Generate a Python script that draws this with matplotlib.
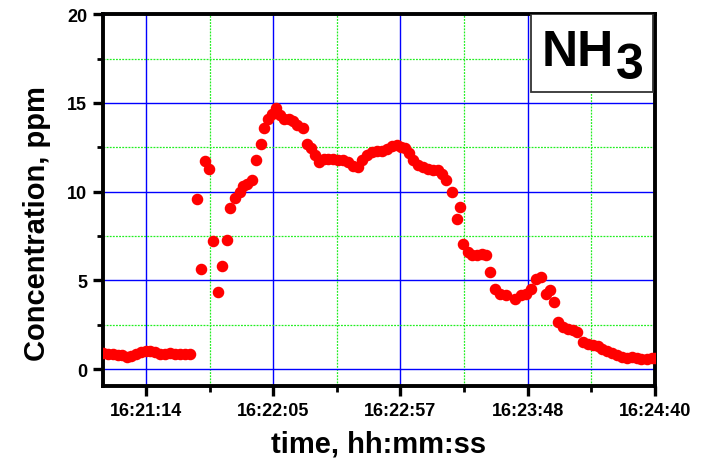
import math
import matplotlib
matplotlib.use("Agg")
import matplotlib.pyplot as plt
from matplotlib.ticker import FuncFormatter, MultipleLocator, FixedLocator
from matplotlib.patches import Rectangle

# seconds after 16:21:14
t_sec = [-17.4, -15.4, -13.3, -11.3, -9.7, -7.7, -6.1, -4.0, -2.0, 0.0,
         1.6, 3.6, 5.7, 7.7, 9.7, 11.7, 13.8, 15.8, 17.8,
         20.5, 22.1, 23.9, 25.6, 27.0, 29.0, 30.9, 32.6, 34.1, 36.0,
         38.0, 39.2, 40.9, 42.8, 44.5, 46.4, 47.7, 49.4, 51.0, 52.6,
         54.2, 55.8, 57.8, 59.5, 61.1, 63.5, 65.1, 66.7, 68.4, 70.0,
         72.0, 73.6, 75.6, 77.7, 79.7, 81.7, 83.7, 85.8, 87.4, 89.4,
         91.4, 93.4, 95.5, 97.5, 99.5, 101.5, 103.2, 104.8, 106.4, 108.0,
         110.0, 112.1, 114.1, 116.1, 118.1, 119.7, 121.4, 123.7, 125.7, 127.3,
         128.4, 130.4, 131.9, 133.9, 135.9, 137.8, 139.2, 141.2, 143.2, 145.9,
         149.3, 152.0, 154.0, 156.0, 158.0, 160.1, 161.8, 163.4, 165.0, 166.8,
         168.7, 170.7, 172.7, 174.4, 176.9, 178.8, 180.8, 182.9, 184.5, 186.5,
         188.5, 190.5, 192.6, 194.6, 196.6, 198.6, 200.6, 202.7, 204.7, 206.0]
# NH3 concentration, ppm
conc = [0.9, 0.85, 0.85, 0.8, 0.8, 0.7, 0.75, 0.85, 0.95, 1.0,
        1.0, 0.95, 0.85, 0.85, 0.9, 0.85, 0.85, 0.85, 0.85,
        9.6, 5.65, 11.7, 11.25, 7.2, 4.33, 5.8, 7.25, 9.08, 9.64,
        9.98, 10.3, 10.45, 10.64, 11.8, 12.7, 13.56, 14.1, 14.4, 14.7,
        14.3, 14.1, 14.1, 14.0, 13.75, 13.56, 12.7, 12.43, 12.05, 11.67,
        11.86, 11.86, 11.86, 11.8, 11.77, 11.67, 11.45, 11.4, 11.77, 12.05,
        12.24, 12.26, 12.3, 12.4, 12.58, 12.6, 12.54, 12.43, 12.15, 11.77,
        11.49, 11.4, 11.3, 11.2, 11.2, 11.0, 10.64, 9.98, 8.47, 9.13,
        7.06, 6.59, 6.4, 6.4, 6.5, 6.4, 5.46, 4.52, 4.24, 4.18,
        3.95, 4.18, 4.24, 4.52, 5.08, 5.2, 4.24, 4.48, 3.8, 2.64,
        2.35, 2.26, 2.2, 2.09, 1.51, 1.41, 1.36, 1.3, 1.13, 1.0,
        0.9, 0.8, 0.68, 0.62, 0.68, 0.62, 0.56, 0.56, 0.62, 0.62]

T0 = 16 * 3600 + 21 * 60 + 14

def hhmmss(x, pos):
    s = int(math.floor(T0 + x + 1e-6))
    return f"{s // 3600}:{(s % 3600) // 60:02d}:{s % 60:02d}"

plt.rcParams['font.family'] = ['Liberation Sans', 'DejaVu Sans']

fig = plt.figure(figsize=(7.11, 4.60), dpi=100)
ax = fig.add_axes([0.145, 0.159, 0.776, 0.808])

ax.plot(t_sec, conc, 'o', color='#ff0000', ms=7.3, mec='#ff0000', zorder=3)

ax.set_xlim(-17.4, 206)
ax.set_ylim(-0.95, 20)

ax.xaxis.set_major_locator(MultipleLocator(51.5))
ax.xaxis.set_minor_locator(FixedLocator([25.75, 77.25, 128.75, 180.25]))
ax.xaxis.set_major_formatter(FuncFormatter(hhmmss))
ax.yaxis.set_major_locator(MultipleLocator(5))
ax.yaxis.set_minor_locator(MultipleLocator(2.5))

ax.grid(which='major', color='#0000ff', lw=1.0, ls='-', zorder=1)
ax.grid(which='minor', color='#22ee22', lw=0.9, ls=(0, (1.5, 1.0)), zorder=1)
ax.set_axisbelow(True)

for s in ax.spines.values():
    s.set_linewidth(2.8)
ax.tick_params(which='major', direction='out', length=7.5, width=2.4, labelsize=13, pad=4)
ax.tick_params(which='minor', direction='out', length=4.5, width=2.0)
for lab in ax.get_xticklabels() + ax.get_yticklabels():
    lab.set_fontweight('bold')

ax.set_xlabel("time, hh:mm:ss", fontsize=21, fontweight='bold', labelpad=8)
ax.set_ylabel("Concentration, ppm", fontsize=21, fontweight='bold')
ax.yaxis.set_label_coords(-0.095, 0.44)

# gas label box in the upper right corner
ax.add_patch(Rectangle((0.775, 0.791), 0.221, 0.209, transform=ax.transAxes,
                       facecolor='white', edgecolor='#333333', lw=1.3, zorder=4))
ax.text(0.795, 0.862, "NH", transform=ax.transAxes, fontsize=36, fontweight='bold',
        ha='left', va='baseline', zorder=5)
ax.text(0.929, 0.828, "3", transform=ax.transAxes, fontsize=36, fontweight='bold',
        ha='left', va='baseline', zorder=5)

fig.savefig("out.png", dpi=100)
